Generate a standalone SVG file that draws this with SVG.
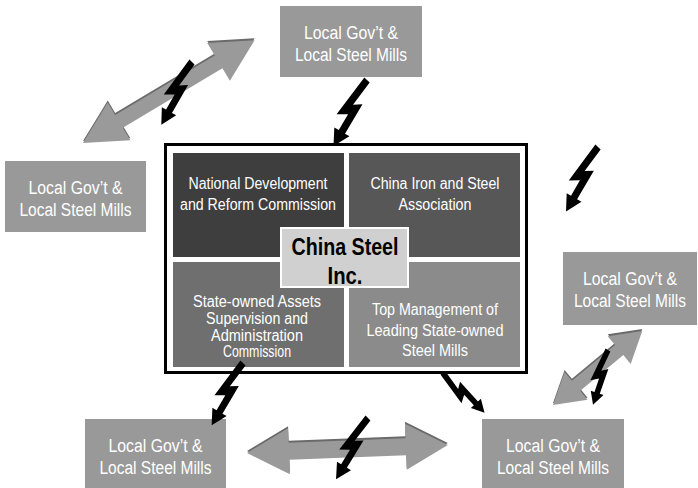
<svg xmlns="http://www.w3.org/2000/svg" xmlns:xlink="http://www.w3.org/1999/xlink" width="698" height="488" viewBox="0 0 698 488">
<style>
text{font-family:"Liberation Sans",Arial,sans-serif;text-anchor:middle}
.box{fill:#999999}
.lbl{font-size:18px;fill:#ffffff}
.pt{font-size:16px;fill:#ffffff}
.title{font-size:23px;font-weight:bold;fill:#000000}
.arr{fill:#9a9a9a}
.shd{fill:#6a6a6a}
.bolt{fill:#000000}
</style>
<defs>
<path id="a1" d="M0,0 L42,-22 L42,-7.5 L158,-7.5 L158,-22 L200,0 L158,22 L158,7.5 L42,7.5 L42,22 Z"/>
<path id="a2" d="M0,0 L42,-23 L42,-8.5 L159,-8.5 L159,-23 L201,0 L159,23 L159,8.5 L42,8.5 L42,23 Z"/>
<path id="a3" d="M0,0 L30,-18 L30,-6.5 L86,-6.5 L86,-18 L116,0 L86,18 L86,6.5 L30,6.5 L30,18 Z"/>
<path id="bolt" d="M-3,-2 L3,2 L-9,26 L0,24 L-11.5,55.2 L-6.8,56.9 L-20.3,69 L-22.8,51.1 L-18.1,52.8 L-12,36 L-23,38 Z"/>
</defs>
<rect width="698" height="488" fill="#ffffff"/>

<g id="gov-top">
<rect class="box" x="280" y="6" width="142" height="71"/>
<text class="lbl" x="351" y="39" textLength="94" lengthAdjust="spacingAndGlyphs">Local Gov’t &amp;</text>
<text class="lbl" x="351" y="61" textLength="112" lengthAdjust="spacingAndGlyphs">Local Steel Mills</text>
</g>
<g id="gov-left">
<rect class="box" x="5" y="161" width="141" height="71"/>
<text class="lbl" x="75.5" y="194" textLength="94" lengthAdjust="spacingAndGlyphs">Local Gov’t &amp;</text>
<text class="lbl" x="75.5" y="216" textLength="112" lengthAdjust="spacingAndGlyphs">Local Steel Mills</text>
</g>
<g id="gov-right">
<rect class="box" x="563" y="252" width="134" height="73"/>
<text class="lbl" x="630" y="285" textLength="94" lengthAdjust="spacingAndGlyphs">Local Gov’t &amp;</text>
<text class="lbl" x="630" y="307" textLength="112" lengthAdjust="spacingAndGlyphs">Local Steel Mills</text>
</g>
<g id="gov-bottom-left">
<rect class="box" x="85" y="419" width="141" height="69"/>
<text class="lbl" x="155.5" y="452" textLength="94" lengthAdjust="spacingAndGlyphs">Local Gov’t &amp;</text>
<text class="lbl" x="155.5" y="474" textLength="112" lengthAdjust="spacingAndGlyphs">Local Steel Mills</text>
</g>
<g id="gov-bottom-right">
<rect class="box" x="482" y="419" width="142" height="69"/>
<text class="lbl" x="553" y="452" textLength="94" lengthAdjust="spacingAndGlyphs">Local Gov’t &amp;</text>
<text class="lbl" x="553" y="474" textLength="112" lengthAdjust="spacingAndGlyphs">Local Steel Mills</text>
</g>

<g id="china-steel">
<rect x="165.5" y="144.5" width="361" height="228" fill="#ffffff" stroke="#000000" stroke-width="3"/>
<g id="ndrc">
<rect x="173" y="153" width="171" height="104" fill="#3e3e3e"/>
<text class="pt" x="258" y="189" textLength="139" lengthAdjust="spacingAndGlyphs">National Development</text>
<text class="pt" x="258" y="210" textLength="156" lengthAdjust="spacingAndGlyphs">and Reform Commission</text>
</g>
<g id="cisa">
<rect x="349" y="153" width="171" height="104" fill="#575757"/>
<text class="pt" x="435" y="189" textLength="129" lengthAdjust="spacingAndGlyphs">China Iron and Steel</text>
<text class="pt" x="435" y="210" textLength="73" lengthAdjust="spacingAndGlyphs">Association</text>
</g>
<g id="sasac">
<rect x="173" y="262" width="171" height="105" fill="#6f6f6f"/>
<text class="pt" x="257" y="307" textLength="128" lengthAdjust="spacingAndGlyphs">State-owned Assets</text>
<text class="pt" x="257" y="324" textLength="102" lengthAdjust="spacingAndGlyphs">Supervision and</text>
<text class="pt" x="257" y="341" textLength="92" lengthAdjust="spacingAndGlyphs">Administration</text>
<text class="pt" x="257" y="357" textLength="68" lengthAdjust="spacingAndGlyphs">Commission</text>
</g>
<g id="top-mgmt">
<rect x="349" y="262" width="171" height="105" fill="#8b8b8b"/>
<text class="pt" x="435" y="315" textLength="126" lengthAdjust="spacingAndGlyphs">Top Management of</text>
<text class="pt" x="435" y="336" textLength="137" lengthAdjust="spacingAndGlyphs">Leading State-owned</text>
<text class="pt" x="435" y="356" textLength="66" lengthAdjust="spacingAndGlyphs">Steel Mills</text>
</g>
<g id="center">
<rect x="281" y="228" width="127" height="59" fill="#d0d0d0" stroke="#ffffff" stroke-width="2"/>
<text class="title" x="345" y="255" textLength="107" lengthAdjust="spacingAndGlyphs">China Steel</text>
<text class="title" x="345" y="284" textLength="35" lengthAdjust="spacingAndGlyphs">Inc.</text>
</g>
</g>

<g id="connectors">
<g transform="translate(0,-2)" class="shd">
<use xlink:href="#a1" transform="translate(83,143) rotate(-30.9)"/>
<use xlink:href="#a2" transform="translate(247,453) rotate(-2.28)"/>
<use xlink:href="#a3" transform="translate(553,405) rotate(-39.7)"/>
</g>
<g class="arr">
<use xlink:href="#a1" transform="translate(83,143) rotate(-30.9)"/>
<use xlink:href="#a2" transform="translate(247,453) rotate(-2.28)"/>
<use xlink:href="#a3" transform="translate(553,405) rotate(-39.7)"/>
</g>
<g class="bolt">
<use xlink:href="#bolt" transform="translate(367,80) rotate(10.5) scale(1.03)"/>
<use xlink:href="#bolt" transform="translate(192,62) rotate(9.7) scale(0.97)"/>
<use xlink:href="#bolt" transform="translate(598,147) rotate(10)"/>
<use xlink:href="#bolt" transform="translate(243,363) rotate(10.3) scale(0.97)"/>
<use xlink:href="#bolt" transform="translate(368,418) rotate(11.2) scale(0.96)"/>
<use xlink:href="#bolt" transform="translate(608,350) rotate(-1.1) scale(0.79)"/>
<use xlink:href="#bolt" transform="translate(443,373) rotate(-62.6) scale(0.8)"/>
</g>
</g>
</svg>
